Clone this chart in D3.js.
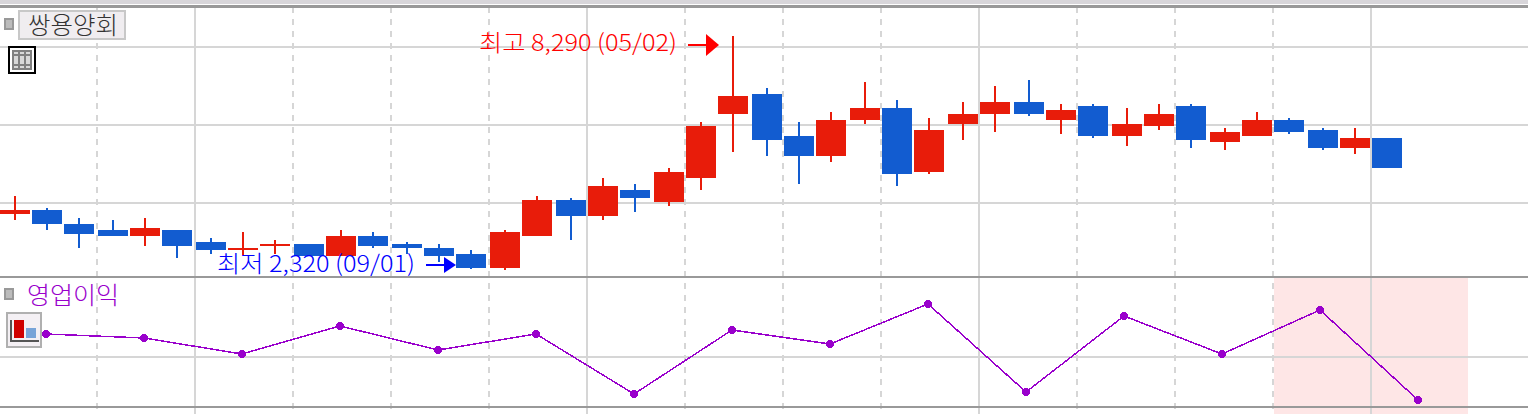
<!DOCTYPE html>
<html><head><meta charset="utf-8">
<script src="https://cdn.jsdelivr.net/npm/d3@7/dist/d3.min.js"></script>
<style>html,body{margin:0;padding:0;background:#fff;overflow:hidden}svg{display:block}text{font-family:"Noto Sans CJK KR","Noto Sans",sans-serif}</style>
</head><body><svg id="c" width="1528" height="414"></svg>
<script>
const months=["00/07","00/08","00/09","00/10","00/11","00/12","01/01","01/02","01/03","01/04","01/05","01/06","01/07","01/08","01/09","01/10","01/11","01/12","02/01","02/02","02/03","02/04","02/05","02/06","02/07","02/08","02/09","02/10","02/11","02/12","03/01","03/02","03/03","03/04","03/05","03/06","03/07","03/08","03/09","03/10","03/11","03/12","04/01"];
const open =[3720,3820,3460,3310,3150,3310,3000,2800,2900,2950,2640,3150,2950,2850,2690,2330,3150,4080,3670,4330,4030,4640,6280,6800,5720,5200,6130,6440,4800,6030,6280,6590,6130,6490,5720,5970,6490,5560,5720,6130,5870,5410,5670];
const close=[3820,3460,3200,3150,3360,2900,2800,2850,2950,2640,3150,2900,2850,2640,2330,3260,4080,3670,4440,4130,4800,5970,6740,5620,5200,6130,6440,4740,5870,6280,6590,6280,6390,5720,6030,6280,5620,5820,6130,5820,5410,5670,4900];
const high =[4180,3870,3620,3560,3620,3310,3100,3260,3050,2950,3310,3260,3000,2950,2800,3310,4180,4130,4640,4490,4900,6080,8290,6950,6080,6330,7100,6640,6180,6590,7000,7150,6540,6540,6440,6540,6540,5920,6330,6180,5920,5920,5670];
const low  =[3560,3310,2850,3150,2900,2590,2690,2640,2690,2640,2640,2850,2690,2490,2320,2280,3150,3050,3560,3770,3920,4330,5310,5210,4490,5050,6030,4440,4740,5620,5820,6230,5770,5670,5460,5870,5410,5360,5720,5770,5360,5260,4900];
const gridValues=[4000,6000,8000];
const quarters=["00Q3","00Q4","01Q1","01Q2","01Q3","01Q4","02Q1","02Q2","02Q3","02Q4","03Q1","03Q2","03Q3","03Q4","04Q1"];
const profit=[73,69,53,81,57,73,13,77,63,103,15,91,53,97,7];
const profitGrid=[50];
const stockName="쌍용양회", indicatorName="영업이익";
const highLabel="최고 8,290 (05/02)", lowLabel="최저 2,320 (09/01)";

const W=1528,H=414,svg=d3.select("#c");
const x=d3.scaleBand().domain(months).range([-1.33,1403.33]);
// pixel snapping of the candle centre inside each three-month group
const snap=i=>32*(i%3)+(((i>=15&&i%3===2)||(i>=30&&i%3===1))?2:0);
const xc=(m,i)=>Math.round(x(months[i-i%3])+x.step()/2)+snap(i);
const y=d3.scaleLinear().domain([2000,8000]).range([281,47]);
const xq=d3.scalePoint().domain(quarters).range([46,1418]);
const yp=d3.scaleLinear().domain([0,130]).range([407,277]);
const GRID="#d6d6d6",DARK="#999999",UP="#e81c0a",DOWN="#125cd0",PURPLE="#9900cc";

svg.append("rect").attr("width",W).attr("height",4).attr("fill","#d8d6da");
svg.append("rect").attr("x",1274).attr("y",278).attr("width",194).attr("height",136).attr("fill","#fee6e6");
const vg=svg.append("g").attr("shape-rendering","crispEdges");
const gm=months.filter((m,i)=>i%3===0&&i>0);
vg.selectAll("line").data(gm).join("line")
 .attr("x1",m=>Math.round(x(m))).attr("x2",m=>Math.round(x(m)))
 .attr("y1",7).attr("y2",H).attr("stroke",GRID).attr("stroke-width",2)
 .attr("stroke-dasharray",m=>m.endsWith("/01")?null:"6 6");
const hg=svg.append("g").attr("shape-rendering","crispEdges");
hg.selectAll("line.a").data(gridValues).join("line").attr("class","a")
 .attr("x1",0).attr("x2",W).attr("y1",d=>y(d)).attr("y2",d=>y(d)).attr("stroke",GRID).attr("stroke-width",2);
hg.selectAll("line.b").data(profitGrid).join("line").attr("class","b")
 .attr("x1",0).attr("x2",W).attr("y1",d=>yp(d)).attr("y2",d=>yp(d)).attr("stroke",GRID).attr("stroke-width",2);
hg.append("rect").attr("x",0).attr("y",5).attr("width",W).attr("height",3).attr("fill",DARK);
[277,407].forEach(v=>hg.append("line").attr("x1",0).attr("x2",W).attr("y1",v).attr("y2",v).attr("stroke",DARK).attr("stroke-width",2));

const data=months.map((m,i)=>({m,i,o:open[i],c:close[i],h:high[i],l:low[i]}));
const cg=svg.append("g").attr("shape-rendering","crispEdges");
const col=d=>d.c>=d.o?UP:DOWN;
cg.selectAll("rect.w").data(data).join("rect").attr("class","w")
 .attr("x",d=>xc(d.m,d.i)-1).attr("width",2)
 .attr("y",d=>Math.round(y(d.h))).attr("height",d=>Math.round(y(d.l))-Math.round(y(d.h)))
 .attr("fill",col);
cg.selectAll("rect.b").data(data).join("rect").attr("class","b")
 .attr("x",d=>xc(d.m,d.i)-15).attr("width",30)
 .attr("y",d=>Math.round(y(Math.max(d.o,d.c)))).attr("height",d=>Math.max(2,Math.round(y(Math.min(d.o,d.c)))-Math.round(y(Math.max(d.o,d.c)))))
 .attr("fill",col);

const pd=quarters.map((q,i)=>({q,v:profit[i]}));
svg.append("path").datum(pd).attr("fill","none").attr("stroke",PURPLE).attr("stroke-width",1.5).attr("shape-rendering","crispEdges")
 .attr("d",d3.line().x(d=>xq(d.q)).y(d=>yp(d.v)));
svg.append("g").selectAll("circle").data(pd).join("circle")
 .attr("cx",d=>xq(d.q)).attr("cy",d=>yp(d.v)).attr("r",3.8).attr("fill",PURPLE).attr("shape-rendering","crispEdges");

function label(t,x0,len,yb,color){
 svg.append("text").text(t).attr("x",x0).attr("y",yb).attr("font-size",23).attr("font-weight",300)
  .attr("fill",color).attr("textLength",len).attr("lengthAdjust","spacingAndGlyphs");
}
label(highLabel,479,198,51,"#ff0000");
label(lowLabel,217,198,272,"#0000ff");
const arrow=(x1,x2,tipx,baseX,cy,h,color)=>{
 svg.append("line").attr("x1",x1).attr("x2",x2).attr("y1",cy).attr("y2",cy).attr("stroke",color).attr("stroke-width",2).attr("shape-rendering","crispEdges");
 svg.append("path").attr("d",d3.line()([[baseX,cy-h],[tipx,cy],[baseX,cy+h]])+"Z").attr("fill",color);
};
arrow(688,708,719,706,45,11,"#ff0000");
arrow(426,446,456,444,265,8,"#0000ff");

const sq=(yy)=>svg.append("rect").attr("x",5).attr("y",yy).attr("width",8).attr("height",10).attr("fill","#bcbcbc").attr("stroke",DARK).attr("stroke-width",2).attr("shape-rendering","crispEdges");
sq(19);sq(289);
svg.append("rect").attr("x",19).attr("y",11).attr("width",106).attr("height",28).attr("fill","#f0edf0").attr("stroke","#c8c8c8").attr("stroke-width",2).attr("shape-rendering","crispEdges");
svg.append("text").text(stockName).attr("x",28).attr("y",34).attr("font-size",24).attr("font-weight",300).attr("fill","#333").attr("textLength",90).attr("lengthAdjust","spacingAndGlyphs");
svg.append("text").text(indicatorName).attr("x",27).attr("y",304).attr("font-size",24).attr("font-weight",300).attr("fill",PURPLE).attr("textLength",92).attr("lengthAdjust","spacingAndGlyphs");

const ic=svg.append("g").attr("shape-rendering","crispEdges");
ic.append("rect").attr("x",9).attr("y",47).attr("width",26).attr("height",26).attr("fill","#fff").attr("stroke","#000").attr("stroke-width",2);
ic.append("rect").attr("x",13).attr("y",51).attr("width",18).attr("height",18).attr("fill","#d8d8d8").attr("stroke","#808080").attr("stroke-width",2);
[19,25].forEach(v=>ic.append("line").attr("x1",v).attr("x2",v).attr("y1",51).attr("y2",69).attr("stroke","#808080").attr("stroke-width",2));
ic.append("line").attr("x1",13).attr("x2",31).attr("y1",55).attr("y2",55).attr("stroke","#808080").attr("stroke-width",2);
ic.append("line").attr("x1",13).attr("x2",31).attr("y1",65).attr("y2",65).attr("stroke","#808080").attr("stroke-width",2);

ic.append("rect").attr("x",7).attr("y",313).attr("width",34).attr("height",34).attr("fill","#f4f0f4").attr("stroke","#b0b0b0").attr("stroke-width",2);
ic.append("rect").attr("x",14).attr("y",320).attr("width",10).attr("height",18).attr("fill","#d00000");
ic.append("rect").attr("x",26).attr("y",328).attr("width",10).attr("height",10).attr("fill","#78a4d8");
ic.append("path").attr("d","M11 320V341H39").attr("fill","none").attr("stroke","#555").attr("stroke-width",2);
</script></body></html>
